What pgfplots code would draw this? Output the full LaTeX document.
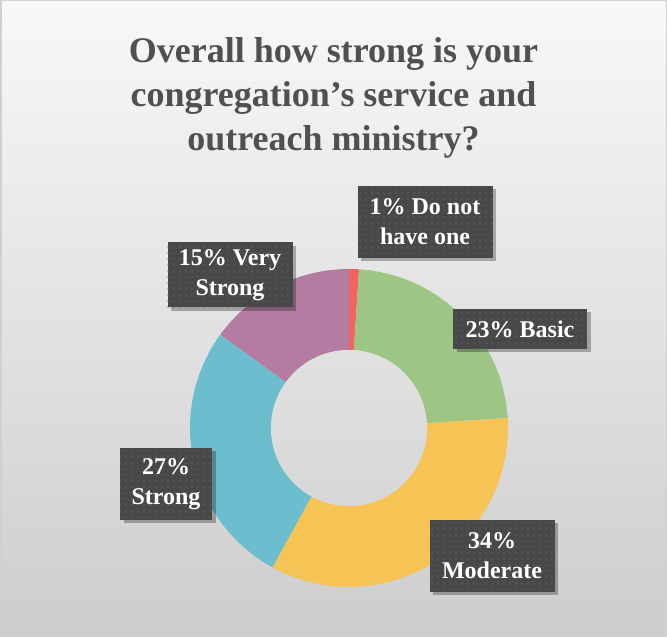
\documentclass[border=0pt]{standalone}
\usepackage{pgfplots}
\pgfplotsset{compat=1.18}
\usepackage{fontspec}
\setmainfont{Liberation Serif}
\usetikzlibrary{shadows,patterns.meta}
\definecolor{cRed}{HTML}{F4635F}
\definecolor{cGreen}{HTML}{9DC583}
\definecolor{cYellow}{HTML}{F6C455}
\definecolor{cTeal}{HTML}{6CBDCD}
\definecolor{cPurple}{HTML}{B47CA0}
\definecolor{boxfill}{HTML}{484848}
\definecolor{boxdot}{HTML}{5F5F5F}
\definecolor{titlegray}{HTML}{505050}
\definecolor{bgtop}{HTML}{F8F8F8}
\definecolor{bgbot}{HTML}{CDCDCD}
\definecolor{holetop}{HTML}{E1E1E1}
\definecolor{holebot}{HTML}{D7D7D7}
\definecolor{framegray}{HTML}{D0D0D0}
\begin{document}
\begin{tikzpicture}[
  lbl/.style={fill=boxfill, text=white, align=center, inner sep=0pt,
    font=\fontsize{24}{30}\selectfont\bfseries,
    drop shadow={shadow xshift=3.5pt, shadow yshift=-3.5pt, fill=black, opacity=0.28},
    postaction={pattern={Dots[distance=6pt, radius=0.9pt]}, pattern color=boxdot}}
]
% background
\shade[top color=bgtop, bottom color=bgbot] (0,0) rectangle (667pt,637pt);
\draw[framegray, line width=1.5pt] (0.75pt,0.75pt) rectangle (666.25pt,636.25pt);
\begin{axis}[
  at={(0,0)}, anchor=south west,
  scale only axis, width=667pt, height=637pt,
  xmin=0, xmax=667, ymin=0, ymax=637,
  hide axis, clip=false
]
% Donut: centre (349,209), outer radius 159, inner radius 78; clockwise from 90 deg
% 1% Do not have one: 90 -> 86.4
\addplot[fill=cRed, draw=none, domain=86.4:90, samples=6]
  ({349+159*cos(x)},{209+159*sin(x)}) -- (axis cs:{349+78*cos(90)},{209+78*sin(90)})
  arc[start angle=90, end angle=86.4, radius=78pt] -- cycle;
% 23% Basic: 86.4 -> 3.6
\addplot[fill=cGreen, draw=none, domain=3.6:86.4, samples=60]
  ({349+159*cos(x)},{209+159*sin(x)}) -- (axis cs:{349+78*cos(86.4)},{209+78*sin(86.4)})
  arc[start angle=86.4, end angle=3.6, radius=78pt] -- cycle;
% 34% Moderate: 3.6 -> -118.8
\addplot[fill=cYellow, draw=none, domain=-118.8:3.6, samples=80]
  ({349+159*cos(x)},{209+159*sin(x)}) -- (axis cs:{349+78*cos(3.6)},{209+78*sin(3.6)})
  arc[start angle=3.6, end angle=-118.8, radius=78pt] -- cycle;
% 27% Strong: -118.8 -> -216
\addplot[fill=cTeal, draw=none, domain=-216:-118.8, samples=70]
  ({349+159*cos(x)},{209+159*sin(x)}) -- (axis cs:{349+78*cos(-118.8)},{209+78*sin(-118.8)})
  arc[start angle=-118.8, end angle=-216, radius=78pt] -- cycle;
% 15% Very Strong: -216 -> -270
\addplot[fill=cPurple, draw=none, domain=-270:-216, samples=40]
  ({349+159*cos(x)},{209+159*sin(x)}) -- (axis cs:{349+78*cos(-216)},{209+78*sin(-216)})
  arc[start angle=-216, end angle=-270, radius=78pt] -- cycle;
\end{axis}
% donut hole shows the grey background
\shade[top color=holetop, bottom color=holebot] (349pt,209pt) circle[radius=78pt];
% title
\begin{scope}[every node/.style={text=titlegray, font=\fontsize{36}{44}\selectfont\bfseries, anchor=base, inner sep=0pt}]
\node at (333.5pt,574pt) {Overall how strong is your};
\node at (333.5pt,530pt) {congregation’s service and};
\node at (333.5pt,486pt) {outreach ministry?};
\end{scope}
% data labels
\node[lbl, minimum width=135pt, minimum height=72pt] at (425pt,415pt) {1\% Do not\\have one};
\node[lbl, minimum width=134pt, minimum height=40pt] at (520pt,308pt) {23\% Basic};
\node[lbl, minimum width=125pt, minimum height=72pt] at (492pt,81pt) {34\%\\Moderate};
\node[lbl, minimum width=92pt, minimum height=72pt] at (166pt,153pt) {27\%\\Strong};
\node[lbl, minimum width=125pt, minimum height=65pt] at (230pt,362pt) {15\% Very\\Strong};
\end{tikzpicture}
\end{document}
